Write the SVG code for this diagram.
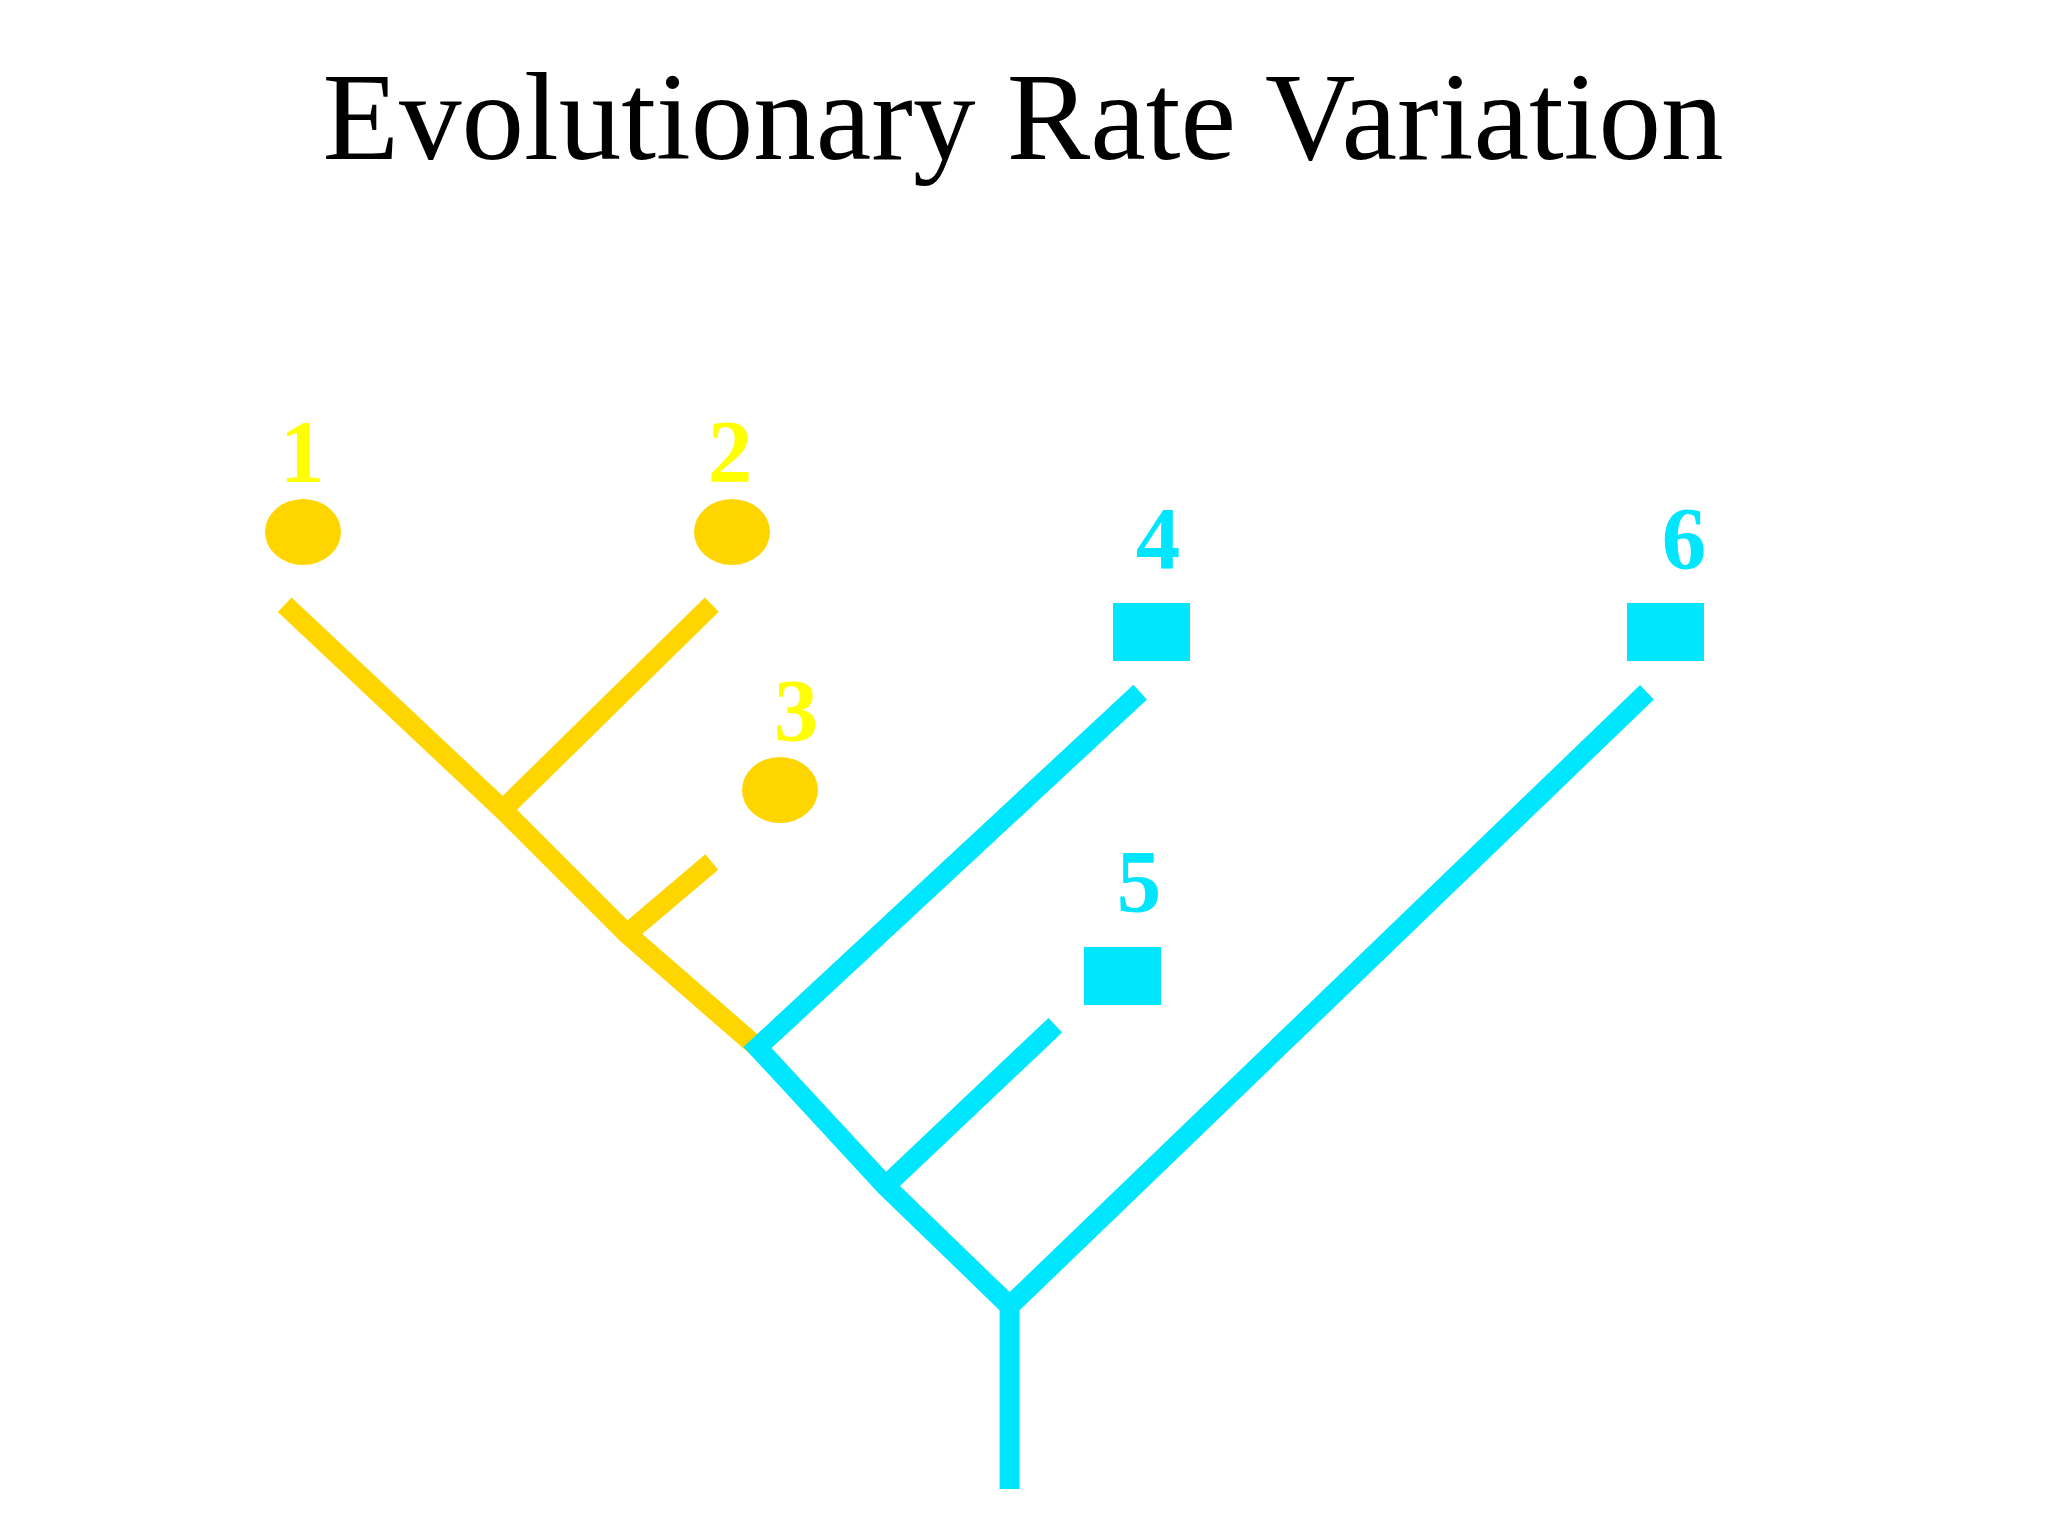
<svg xmlns="http://www.w3.org/2000/svg" width="2048" height="1536" viewBox="0 0 2048 1536">
<style>
.title{font-family:"Liberation Serif","Times New Roman",serif;font-size:125px;fill:#000;text-anchor:middle}
.lbl{font-family:"Liberation Serif","Times New Roman",serif;font-size:89px;font-weight:bold;text-anchor:middle}
.ly{fill:#FFFF00}
.lc{fill:#00E6FF}
.gold{fill:#FFD500}
.cyan{fill:#00E6FF}
.by{fill:none;stroke:#FFD500;stroke-width:20;stroke-linejoin:miter;stroke-linecap:butt}
.bc{fill:none;stroke:#00E6FF;stroke-width:20;stroke-linejoin:miter;stroke-linecap:butt}
</style>
<rect width="2048" height="1536" fill="#ffffff"/>
<text class="title" x="1023" y="159" textLength="1401" lengthAdjust="spacingAndGlyphs">Evolutionary Rate Variation</text>
<g id="connectors">
<path class="by" d="M284.7,604.7 L502.8,809.7 L626.9,933.8 L757.5,1047.5"/>
<path class="by" d="M711.8,604.7 L502.8,809.7"/>
<path class="by" d="M711.8,862 L626.9,933.8"/>
<path class="bc" d="M1140.2,692.2 L757.5,1047.5 L885.5,1185.9 L1009.6,1306 L1647,692.2"/>
<path class="bc" d="M1055.3,1025.3 L885.5,1185.9"/>
<path class="bc" d="M1009.6,1306 L1009.6,1489"/>
</g>
<g id="taxon1">
<text class="lbl ly" x="302" y="481">1</text>
<ellipse class="gold" cx="303" cy="532" rx="38" ry="33"/>
</g>
<g id="taxon2">
<text class="lbl ly" x="730" y="481">2</text>
<ellipse class="gold" cx="732" cy="532" rx="38" ry="33"/>
</g>
<g id="taxon3">
<text class="lbl ly" x="796" y="740">3</text>
<ellipse class="gold" cx="780" cy="790" rx="38" ry="33"/>
</g>
<g id="taxon4">
<text class="lbl lc" x="1158" y="568">4</text>
<rect class="cyan" x="1113" y="603" width="77" height="58"/>
</g>
<g id="taxon5">
<text class="lbl lc" x="1139" y="911">5</text>
<rect class="cyan" x="1084" y="947" width="77" height="58"/>
</g>
<g id="taxon6">
<text class="lbl lc" x="1684" y="568">6</text>
<rect class="cyan" x="1627" y="603" width="77" height="58"/>
</g>
</svg>
